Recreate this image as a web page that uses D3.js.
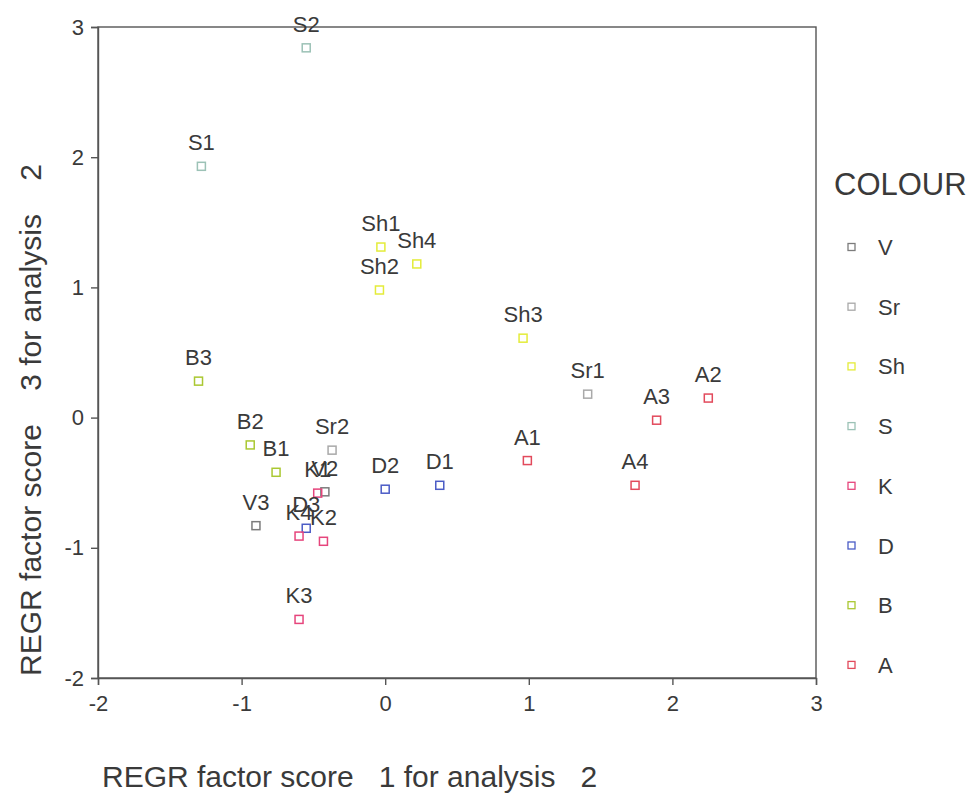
<!DOCTYPE html>
<html><head><meta charset="utf-8">
<script src="https://cdn.jsdelivr.net/npm/d3@7"></script>
<style>
body{margin:0;background:#fff;}
text{font-family:"Liberation Sans",Arial,Helvetica,sans-serif;fill:#3a3a3a;white-space:pre;}
</style></head>
<body>
<svg id="chart" width="972" height="793"></svg>
<script>
const labels = ["S2","S1","Sh1","Sh4","Sh2","Sh3","B3","Sr1","A2","A3","A1","A4","D1","D2","B2","B1","Sr2","V2","K1","V3","D3","K4","K2","K3"];
const xs = [-0.55,-1.28,-0.03,0.22,-0.04,0.96,-1.30,1.41,2.25,1.89,0.99,1.74,0.38,0.00,-0.94,-0.76,-0.37,-0.42,-0.47,-0.90,-0.55,-0.60,-0.43,-0.60];
const ys = [2.84,1.93,1.31,1.18,0.98,0.61,0.28,0.18,0.15,-0.02,-0.33,-0.52,-0.52,-0.55,-0.21,-0.42,-0.25,-0.57,-0.58,-0.83,-0.85,-0.91,-0.95,-1.55];
const groups = ["S","S","Sh","Sh","Sh","Sh","B","Sr","A","A","A","A","D","D","B","B","Sr","V","K","V","D","K","K","K"];
const legendGroups = ["V","Sr","Sh","S","K","D","B","A"];
const groupColors = ["#7c7c7c","#a9a9a9","#e4ec3a","#9cc2b6","#e6457c","#4b5cc6","#aac832","#e24a5c"];
const xTicks = [-2,-1,0,1,2,3];
const yTicks = [-2,-1,0,1,2,3];

const svg = d3.select("#chart");
const L=98,R=816,T=27,B=678;
const x = d3.scaleLinear().domain([-2,3]).range([L,R]);
const y = d3.scaleLinear().domain([-2,3]).range([B,T]);
const color = d3.scaleOrdinal().domain(legendGroups).range(groupColors);

// frame
svg.append("rect").attr("x",L).attr("y",T).attr("width",R-L).attr("height",B-T)
  .attr("fill","none").attr("stroke","#555").attr("stroke-width",1.4);

const fmt = d => String(d);
const xAxis = svg.append("g").attr("transform",`translate(0,${B})`)
  .call(d3.axisBottom(x).tickValues(xTicks).tickSize(7).tickFormat(fmt));
const yAxis = svg.append("g").attr("transform",`translate(${L},0)`)
  .call(d3.axisLeft(y).tickValues(yTicks).tickSize(7).tickFormat(fmt));
[xAxis,yAxis].forEach(a=>{
  a.attr("font-size",null).attr("font-family",null);
  a.select(".domain").attr("stroke","#555").attr("stroke-width",1.4);
  a.selectAll(".tick line").attr("stroke","#555").attr("stroke-width",1.4);
  a.selectAll(".tick text").style("font-size","22px").attr("fill","#3a3a3a");
});
xAxis.selectAll(".tick text").attr("y",17);
yAxis.selectAll(".tick text").attr("x",-14);

// axis titles
svg.append("text").attr("x",102).attr("y",787).style("font-size","30px")
  .text("REGR factor score   1 for analysis   2");
svg.append("text").attr("transform","translate(41,420) rotate(-90)").attr("text-anchor","middle")
  .style("font-size","30px")
  .text("REGR factor score    3 for analysis    2");

// points
const data = labels.map((l,i)=>({l,x:xs[i],y:ys[i],g:groups[i]}));
const s=8;
svg.append("g").selectAll("rect").data(data).join("rect")
  .attr("x",d=>x(d.x)-s/2).attr("y",d=>y(d.y)-s/2).attr("width",s).attr("height",s)
  .attr("fill","none").attr("stroke",d=>color(d.g)).attr("stroke-width",1.5);
svg.append("g").selectAll("text").data(data).join("text")
  .attr("x",d=>x(d.x)).attr("y",d=>y(d.y)-16).attr("text-anchor","middle")
  .style("font-size","22px").text(d=>d.l);

// legend
svg.append("text").attr("x",834).attr("y",195).style("font-size","31px").text("COLOUR");
const lg = svg.append("g").selectAll("g").data(legendGroups).join("g")
  .attr("transform",(d,i)=>`translate(0,${247+i*59.7})`);
lg.append("rect").attr("x",848).attr("y",-3.5).attr("width",7).attr("height",7)
  .attr("fill","none").attr("stroke",d=>color(d)).attr("stroke-width",1.3);
lg.append("text").attr("x",878).attr("y",8).style("font-size","22px").text(d=>d);
</script>
</body></html>
